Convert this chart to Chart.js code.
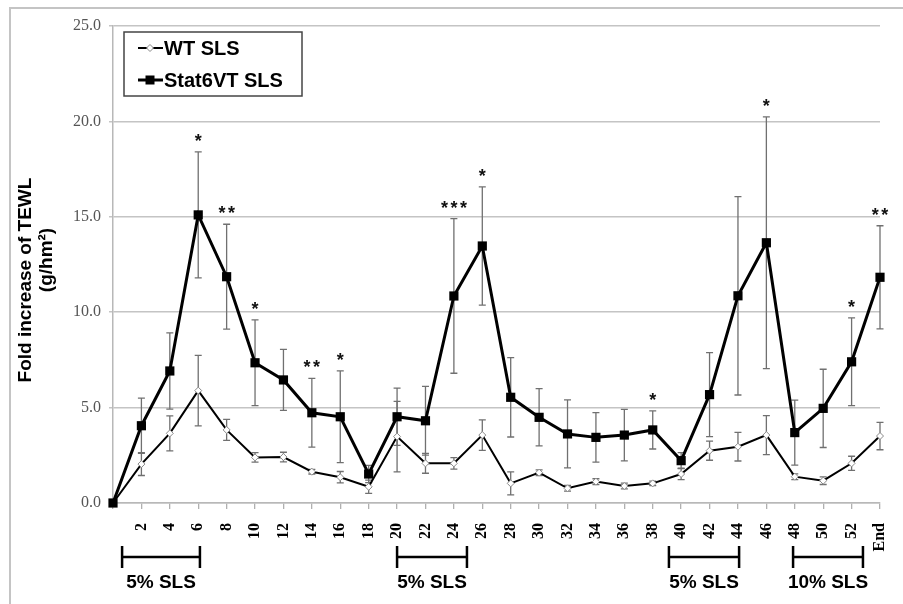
<!DOCTYPE html>
<html>
<head>
<meta charset="utf-8">
<script src="https://cdn.jsdelivr.net/npm/chart.js@4.4.1/dist/chart.umd.min.js"></script>
<style>
  html, body { margin: 0; padding: 0; background: #fff; }
  #wrap { width: 903px; height: 604px; position: relative; }
</style>
</head>
<body>
<div id="wrap"><canvas id="tewlChart"></canvas></div>
<script>
// --- DATA ---
const days = ['', '2', '4', '6', '8', '10', '12', '14', '16', '18', '20', '22', '24', '26',
  '28', '30', '32', '34', '36', '38', '40', '42', '44', '46', '48', '50', '52', 'End'];
const wtSLS = [0, 2.04, 3.65, 5.89, 3.83, 2.39, 2.41, 1.64, 1.35, 0.85, 3.48, 2.08, 2.08, 3.56,
  1.03, 1.59, 0.77, 1.12, 0.89, 1.03, 1.52, 2.74, 2.95, 3.56, 1.38, 1.17, 2.08, 3.51];
const wtErr = [0, 0.6, 0.92, 1.85, 0.55, 0.25, 0.25, 0.12, 0.3, 0.35, 1.85, 0.52, 0.3, 0.8,
  0.6, 0.15, 0.15, 0.15, 0.15, 0.12, 0.3, 0.5, 0.75, 1.02, 0.15, 0.2, 0.37, 0.72];
const statSLS = [0, 4.05, 6.92, 15.1, 11.86, 7.35, 6.45, 4.73, 4.52, 1.52, 4.52, 4.31, 10.85, 13.47,
  5.54, 4.49, 3.62, 3.44, 3.56, 3.83, 2.22, 5.68, 10.86, 13.64, 3.69, 4.96, 7.40, 11.83];
const statErr = [0, 1.45, 2.0, 3.3, 2.75, 2.25, 1.6, 1.8, 2.4, 0.45, 1.5, 1.8, 4.05, 3.1,
  2.08, 1.5, 1.78, 1.3, 1.35, 1.0, 0.42, 2.2, 5.2, 6.6, 1.7, 2.05, 2.3, 2.7];
const stars = ['', '', '', '*', '**', '*', '', '**', '*', '', '', '', '***', '*',
  '', '', '', '', '', '*', '', '', '', '*', '', '', '*', '**'];
const yTicks = [0, 5, 10, 15, 20, 25];
// SLS application periods (in category index units) and their labels
const periodStart = [0.32, 10.0, 19.57, 23.94];
const periodEnd = [3.06, 12.46, 22.04, 26.40];
const periodLabel = ['5% SLS', '5% SLS', '5% SLS', '10% SLS'];

const sans = '"Liberation Sans", Arial, sans-serif';
const serif = '"Liberation Serif", "Times New Roman", serif';

// --- PLUGINS ---
const frame = {
  id: 'frame',
  beforeDraw(chart) {
    const ctx = chart.ctx;
    ctx.save();
    ctx.strokeStyle = '#c4c4c4';
    ctx.lineWidth = 2;
    ctx.beginPath();
    ctx.moveTo(10, 604); ctx.lineTo(10, 8); ctx.lineTo(903, 8);
    ctx.stroke();
    ctx.restore();
  }
};

const errorBars = {
  id: 'errorBars',
  beforeDatasetsDraw(chart) {
    const ctx = chart.ctx, xs = chart.scales.x, ys = chart.scales.y;
    const sets = [[wtSLS, wtErr], [statSLS, statErr]];
    ctx.save();
    ctx.strokeStyle = '#707070';
    ctx.lineWidth = 1.3;
    sets.forEach(([vals, errs]) => {
      vals.forEach((v, i) => {
        if (!errs[i]) return;
        const x = xs.getPixelForValue(i);
        const t = ys.getPixelForValue(v + errs[i]);
        const b = ys.getPixelForValue(Math.max(v - errs[i], 0));
        ctx.beginPath();
        ctx.moveTo(x, t); ctx.lineTo(x, b);
        ctx.moveTo(x - 3.5, t); ctx.lineTo(x + 3.5, t);
        ctx.moveTo(x - 3.5, b); ctx.lineTo(x + 3.5, b);
        ctx.stroke();
      });
    });
    ctx.restore();
  }
};

const extras = {
  id: 'extras',
  afterDraw(chart) {
    const ctx = chart.ctx, xs = chart.scales.x, ys = chart.scales.y;
    ctx.save();
    // significance stars, one glyph at a time so they sit a little apart
    ctx.fillStyle = '#111';
    ctx.font = 'bold 18px ' + sans;
    ctx.textAlign = 'center';
    ctx.textBaseline = 'alphabetic';
    stars.forEach((s, i) => {
      if (!s) return;
      const x = xs.getPixelForValue(i);
      const y = ys.getPixelForValue(statSLS[i] + statErr[i]) - 5;
      for (let k = 0; k < s.length; k++) {
        ctx.fillText('*', x + (k - (s.length - 1) / 2) * 9.5, y);
      }
    });

    // legend
    ctx.strokeStyle = '#444';
    ctx.lineWidth = 1.5;
    ctx.strokeRect(124, 32, 178, 64);
    ctx.textAlign = 'left';
    ctx.textBaseline = 'middle';
    ctx.font = 'bold 20px ' + sans;
    ctx.fillStyle = '#000';
    // WT
    ctx.strokeStyle = '#000'; ctx.lineWidth = 2;
    ctx.beginPath(); ctx.moveTo(138, 48); ctx.lineTo(163, 48); ctx.stroke();
    ctx.fillStyle = '#fff'; ctx.strokeStyle = '#888'; ctx.lineWidth = 1;
    ctx.beginPath(); ctx.moveTo(146.5, 48); ctx.lineTo(150, 44.5); ctx.lineTo(153.5, 48); ctx.lineTo(150, 51.5); ctx.closePath();
    ctx.fill(); ctx.stroke();
    ctx.fillStyle = '#000';
    ctx.fillText('WT SLS', 164, 49);
    // Stat6VT
    ctx.strokeStyle = '#000'; ctx.lineWidth = 3;
    ctx.beginPath(); ctx.moveTo(138, 80); ctx.lineTo(163, 80); ctx.stroke();
    ctx.fillRect(145.5, 75.5, 9, 9);
    ctx.fillText('Stat6VT SLS', 164, 81);

    // y axis title
    ctx.font = 'bold 19px ' + sans;
    ctx.textAlign = 'center';
    ctx.save();
    ctx.translate(26, 280); ctx.rotate(-Math.PI / 2);
    ctx.fillText('Fold increase of TEWL', 0, 0);
    ctx.restore();
    ctx.save();
    ctx.translate(47, 260); ctx.rotate(-Math.PI / 2);
    ctx.fillText('(g/hm\u00B2)', 0, 0);
    ctx.restore();

    // SLS treatment brackets
    ctx.strokeStyle = '#000';
    ctx.lineWidth = 2.5;
    ctx.font = 'bold 19px ' + sans;
    periodLabel.forEach((lab, k) => {
      const x0 = xs.getPixelForValue(periodStart[k]);
      const x1 = xs.getPixelForValue(periodEnd[k]);
      ctx.beginPath();
      ctx.moveTo(x0, 546); ctx.lineTo(x0, 568);
      ctx.moveTo(x1, 546); ctx.lineTo(x1, 568);
      ctx.moveTo(x0, 557); ctx.lineTo(x1, 557);
      ctx.stroke();
      ctx.fillText(lab, (x0 + x1) / 2, 583);
    });
    ctx.restore();
  }
};

// --- CHART ---
const ctx = document.getElementById('tewlChart').getContext('2d');
new Chart(ctx, {
  type: 'line',
  data: {
    labels: days,
    datasets: [
      {
        label: 'WT SLS', data: wtSLS, clip: false, order: 1,
        borderColor: '#000', borderWidth: 2,
        pointStyle: 'rectRot', pointRadius: 3.5,
        pointBackgroundColor: '#fff', pointBorderColor: '#8a8a8a', pointBorderWidth: 1,
        tension: 0
      },
      {
        label: 'Stat6VT SLS', data: statSLS, clip: false, order: 0,
        borderColor: '#000', borderWidth: 3,
        pointStyle: 'rect', pointRadius: 6.5,
        pointBackgroundColor: '#000', pointBorderColor: '#000', pointBorderWidth: 0,
        tension: 0
      }
    ]
  },
  options: {
    responsive: true, maintainAspectRatio: false, animation: false,
    devicePixelRatio: 1,
    layout: { padding: { left: 0, right: 23, top: 26, bottom: 0 } },
    plugins: { legend: { display: false }, tooltip: { enabled: false } },
    scales: {
      x: {
        offset: false,
        grid: { drawOnChartArea: false, drawTicks: true, tickLength: 6, color: '#b0b0b0', lineWidth: 1.3 },
        border: { display: true, color: '#b8b8b8', width: 1.5 },
        ticks: {
          autoSkip: false, minRotation: 90, maxRotation: 90, padding: 14,
          color: '#000', font: { family: serif, size: 16, weight: 'bold' }
        },
        afterFit: (s) => { s.height = 101; s.paddingLeft = 0; s.paddingRight = 0; }
      },
      y: {
        min: 0, max: 25,
        afterBuildTicks: (s) => { s.ticks = yTicks.map(v => ({ value: v })); },
        grid: { color: '#c4c4c4', lineWidth: 1.5, tickLength: 4 },
        border: { display: true, color: '#b8b8b8', width: 1.5 },
        ticks: {
          padding: 8, color: '#555',
          font: { family: serif, size: 16 },
          callback: (v) => v.toFixed(1)
        },
        afterFit: (s) => { s.width = 113; s.paddingTop = 0; s.paddingBottom = 0; }
      }
    }
  },
  plugins: [frame, errorBars, extras]
});
</script>
</body>
</html>
